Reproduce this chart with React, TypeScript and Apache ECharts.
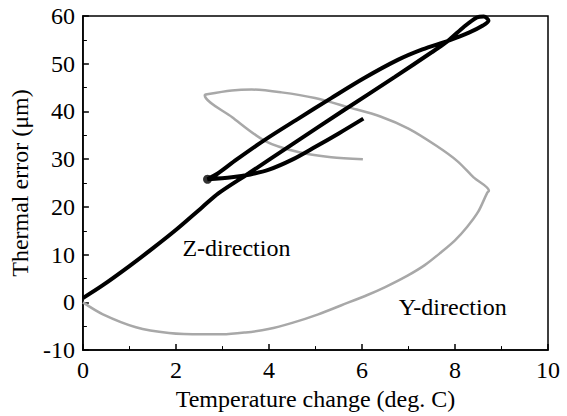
import React, { useEffect, useRef } from "react";
import * as echarts from "echarts";

// Z-direction thermal error (black, thick)
const zTemp = [0, 0.43, 1.0, 1.5, 1.99, 2.56, 2.92, 3.56, 4.5, 5.6, 6.7, 7.5, 7.85, 8.2, 8.47, 8.62, 8.72, 8.6, 8.3, 7.85, 7.3, 6.77, 6.05, 5.34, 4.6, 3.92, 3.3, 2.9, 2.68, 3.2, 3.6, 4.0, 4.5, 5.0, 5.5, 6.03];
const zErr = [0.9, 3.6, 7.6, 11.3, 15.1, 19.9, 22.9, 27.0, 33.1, 40.2, 47.2, 52.4, 54.8, 57.8, 59.7, 59.9, 59.0, 58.0, 56.5, 54.8, 53.0, 50.8, 47.0, 42.8, 38.3, 34.1, 29.9, 27.0, 25.8, 26.2, 26.8, 27.8, 29.9, 32.6, 35.4, 38.5];

// Turning point (thick dot)
const zTurn = [[2.68, 25.8]];

// Y-direction thermal error (grey, thin)
const yTemp = [0, 0.43, 1.14, 1.85, 2.56, 3.0, 3.5, 3.99, 4.5, 5.06, 5.56, 6.13, 6.5, 6.98, 7.35, 7.69, 8.0, 8.26, 8.5, 8.69, 8.73, 8.4, 8.05, 7.6, 7.0, 6.41, 5.7, 4.99, 4.27, 3.63, 3.2, 2.67, 2.62, 3.21, 3.92, 4.63, 5.34, 6.02];
const yErr = [0, -2.5, -5.2, -6.4, -6.7, -6.7, -6.3, -5.6, -4.3, -2.5, -0.6, 1.6, 3.2, 5.6, 7.8, 10.4, 13.0, 15.8, 19.0, 22.9, 23.4, 26.2, 29.6, 32.8, 36.4, 38.9, 40.9, 42.8, 44.0, 44.6, 44.4, 43.6, 43.4, 38.8, 33.8, 31.5, 30.4, 30.0];

// Annotations (left edge, vertical middle) in data units
const labelText = ["Z-direction", "Y-direction"];
const labelX = [2.14, 6.79];
const labelY = [11.3, -1.0];

const xTitle = "Temperature change (deg. C)";
const yTitle = "Thermal error (\u03bcm)";

const FONT = "'Liberation Serif', 'Times New Roman', serif";

export default function App() {
  const ref = useRef<HTMLDivElement>(null);
  useEffect(() => {
    if (!ref.current) return;
    const chart = echarts.init(ref.current, null, { renderer: "svg" });
    const zData = zTemp.map((t, i) => [t, zErr[i]]);
    const yData = yTemp.map((t, i) => [t, yErr[i]]);
    chart.setOption({
      animation: false,
      backgroundColor: "#fff",
      grid: {
        left: 80,
        top: 16,
        right: 19,
        bottom: 56,
        show: true,
        borderColor: "#000",
        borderWidth: 1.5,
        backgroundColor: "transparent",
      },
      xAxis: {
        type: "value",
        min: 0,
        max: 10,
        interval: 2,
        name: xTitle,
        nameLocation: "middle",
        nameGap: 35,
        nameTextStyle: { fontFamily: FONT, fontSize: 24, color: "#000" },
        axisLine: { show: true, onZero: false, lineStyle: { color: "#000", width: 1.5 } },
        axisTick: { show: true, inside: true, length: 6, lineStyle: { color: "#000", width: 1.5 } },
        minorTick: { show: true, splitNumber: 2, length: 4, lineStyle: { color: "#000", width: 1 } },
        splitLine: { show: false },
        axisLabel: { fontFamily: FONT, fontSize: 24, color: "#000", margin: 8 },
      },
      yAxis: {
        type: "value",
        min: -10,
        max: 60,
        interval: 10,
        name: yTitle,
        nameLocation: "middle",
        nameGap: 44,
        nameTextStyle: { fontFamily: FONT, fontSize: 24, color: "#000" },
        axisLine: { show: true, onZero: false, lineStyle: { color: "#000", width: 1.5 } },
        axisTick: { show: true, inside: true, length: 6, lineStyle: { color: "#000", width: 1.5 } },
        minorTick: { show: true, splitNumber: 2, length: 4, lineStyle: { color: "#000", width: 1 } },
        splitLine: { show: false },
        axisLabel: { fontFamily: FONT, fontSize: 24, color: "#000", margin: 8 },
      },
      series: [
        {
          type: "line",
          name: "Y-direction",
          data: yData,
          smooth: 0.3,
          showSymbol: false,
          lineStyle: { color: "#a8a8a8", width: 2.5 },
          z: 2,
        },
        {
          type: "line",
          name: "Z-direction",
          data: zData,
          smooth: 0.3,
          showSymbol: false,
          lineStyle: { color: "#000", width: 4 },
          z: 3,
        },
        {
          type: "scatter",
          data: zTurn,
          symbolSize: 9,
          itemStyle: { color: "#000" },
          z: 4,
        },
      ],
    });
    const graphics = labelText.map((t, i) => {
      const p = chart.convertToPixel({ gridIndex: 0 }, [labelX[i], labelY[i]]) as number[];
      return {
        type: "text",
        x: p[0],
        y: p[1],
        style: {
          text: t,
          fontFamily: FONT,
          fontSize: 24,
          fill: "#000",
          textAlign: "left",
          textVerticalAlign: "middle",
        },
        z: 10,
      };
    });
    chart.setOption({ graphic: graphics });
    return () => chart.dispose();
  }, []);
  return (
    <div
      ref={ref}
      style={{ position: "fixed", left: 0, top: 0, width: 567, height: 416 }}
    />
  );
}
